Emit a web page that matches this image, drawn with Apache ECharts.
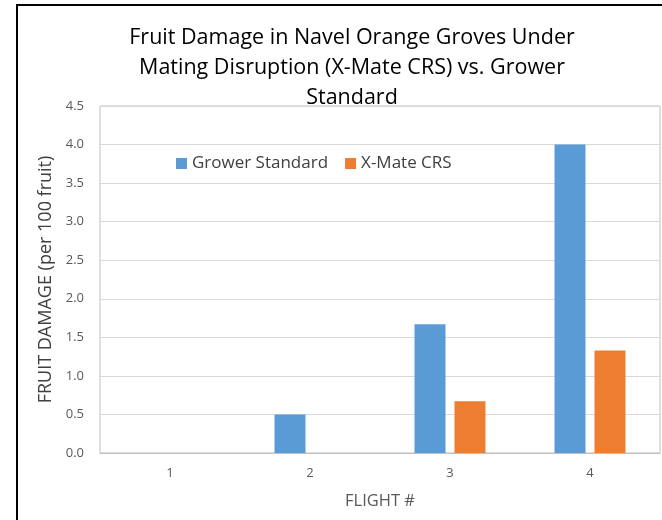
<!DOCTYPE html>
<html><head><meta charset="utf-8">
<script src="https://cdn.jsdelivr.net/npm/echarts@6/dist/echarts.min.js"></script>
<style>html,body{margin:0;padding:0;background:#fff}#c{width:662px;height:520px}</style>
</head><body><div id="c"></div>
<script>
var categories = ['1', '2', '3', '4'];
var growerStandard = [0, 0.5, 1.67, 4.0];
var xMateCRS = [0, 0, 0.67, 1.33];
var yTicks = [0, 0.5, 1, 1.5, 2, 2.5, 3, 3.5, 4, 4.5];
var titleLines = ['Fruit Damage in Navel Orange Groves Under', 'Mating Disruption (X-Mate CRS) vs. Grower', 'Standard'];

var F = '"Open Sans", "Noto Sans", sans-serif';
var chart = echarts.init(document.getElementById('c'));
chart.setOption({
  animation: false,
  title: {
    text: titleLines.join('\n'),
    left: 347, top: 18, textAlign: 'center',
    textStyle: { fontFamily: F, fontSize: 21.5, fontWeight: 'normal', color: '#000', lineHeight: 30 }
  },
  legend: {
    left: 171, top: 150, itemWidth: 11, itemHeight: 11, itemGap: 17,
    icon: 'rect',
    textStyle: { fontFamily: F, fontSize: 17, color: '#404040' },
    data: ['Grower Standard', 'X-Mate CRS']
  },
  grid: { left: 100, right: 2, top: 106, bottom: 67, show: true, borderColor: '#bfbfbf', borderWidth: 1, containLabel: false, outerBoundsMode: 'none' },
  xAxis: {
    type: 'category', data: categories,
    name: 'FLIGHT #', nameLocation: 'middle', nameGap: 40,
    nameTextStyle: { fontFamily: F, fontSize: 16.5, color: '#595959' },
    axisLine: { lineStyle: { color: '#bfbfbf' } },
    axisTick: { show: false },
    axisLabel: { fontFamily: F, fontSize: 13, color: '#595959', margin: 14 }
  },
  yAxis: {
    type: 'value', min: yTicks[0], max: yTicks[yTicks.length - 1], interval: 0.5,
    name: 'FRUIT DAMAGE (per 100 fruit)', nameLocation: 'middle', nameGap: 44, nameRotate: 90,
    nameTextStyle: { fontFamily: F, fontSize: 18, color: '#404040' },
    axisLine: { show: false }, axisTick: { show: false },
    axisLabel: { fontFamily: F, fontSize: 13, color: '#595959', margin: 16, formatter: function (v) { return v.toFixed(1); } },
    splitLine: { lineStyle: { color: '#d9d9d9' } }
  },
  graphic: [
    { type: 'rect', shape: { x: 17, y: 5, width: 700, height: 600 }, style: { fill: 'none', stroke: '#000', lineWidth: 2 }, silent: true }
  ],
  series: [
    { name: 'Grower Standard', type: 'bar', data: growerStandard, barWidth: 31, barGap: '29%', itemStyle: { color: '#5b9bd5' } },
    { name: 'X-Mate CRS', type: 'bar', data: xMateCRS, barWidth: 31, barGap: '29%', itemStyle: { color: '#ed7d31' } }
  ]
});
</script></body></html>
